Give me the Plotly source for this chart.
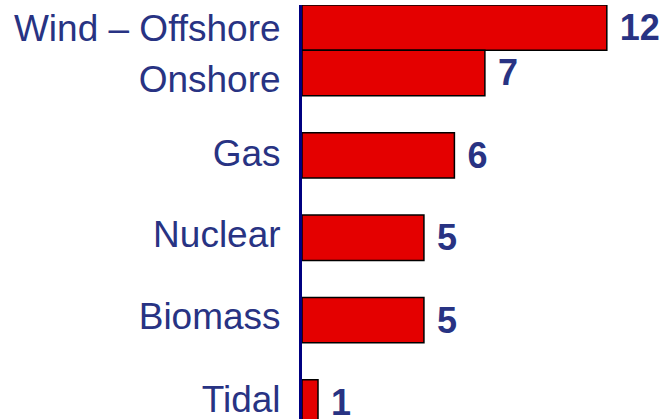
import plotly.graph_objects as go

categories = ["Wind – Offshore", "Onshore", "Gas", "Nuclear", "Biomass", "Tidal"]
values = [12, 7.2, 6, 4.8, 4.8, 0.63]
value_labels = ["12", "7", "6", "5", "5", "1"]

NAVY_TEXT = "#283383"
BAR_T = 0.55
# Offshore/Onshore are paired (adjacent bars), the rest one slot apart
positions = [0, BAR_T] + [BAR_T + 1 + i for i in range(len(categories) - 2)]

TOP = 4.5
Y_RANGE = [4.75, -0.275]
px_per_unit = (419 - TOP) / (Y_RANGE[0] - Y_RANGE[1])
# small vertical nudges (px) of the category labels relative to their bars
label_nudge_px = [0, 6, -2, -4, -4, -3]
label_pos = [p + d / px_per_unit for p, d in zip(positions, label_nudge_px)]

fig = go.Figure(
    go.Bar(
        x=values,
        y=positions,
        orientation="h",
        width=BAR_T,
        marker=dict(color="#e40000", line=dict(color="#000000", width=1.5)),
        text=value_labels,
        texttemplate="\u00a0%{text}",
        textposition="outside",
        constraintext="none",
        cliponaxis=False,
        textfont=dict(family="Liberation Sans", size=36, color=NAVY_TEXT, weight="bold"),
        hoverinfo="skip",
    )
)

fig.update_layout(
    width=666,
    height=419,
    margin=dict(l=302, r=0, t=TOP, b=0, autoexpand=False),
    paper_bgcolor="white",
    plot_bgcolor="white",
    showlegend=False,
    font=dict(family="Liberation Sans"),
)
fig.update_xaxes(range=[0, 14.33], visible=False, showgrid=False, zeroline=False,
                 automargin=False)
fig.update_yaxes(
    range=Y_RANGE,
    tickvals=label_pos,
    ticktext=categories,
    showgrid=False,
    zeroline=False,
    showline=True,
    linecolor="#000080",
    linewidth=3,
    ticks="",
    automargin=False,
    ticklabeloverflow="allow",
    ticklabelstandoff=11,
    tickfont=dict(family="Liberation Sans", size=37, color=NAVY_TEXT),
)

fig.write_html(
    "out.html",
    config={"displayModeBar": False},
    post_script="document.body.style.margin='0';document.body.style.overflow='hidden';",
)
